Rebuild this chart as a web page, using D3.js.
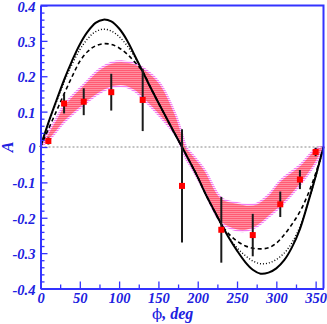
<!DOCTYPE html>
<html>
<head>
<meta charset="utf-8">
<script src="https://cdn.jsdelivr.net/npm/d3@7"></script>
<style>
body { margin: 0; background: #fff; }
svg { display: block; }
.tick text { font-family: "Liberation Serif", serif; font-weight: bold; font-style: italic; font-size: 14.5px; fill: #2020e0; }
</style>
</head>
<body>
<svg id="chart" width="327" height="324"></svg>
<script>
"use strict";

// measured points
var pointPhi = [10, 30, 55, 90, 130, 180, 230, 270, 305, 330, 350];
var pointA   = [0.017, 0.123, 0.128, 0.155, 0.133, -0.110, -0.234, -0.249, -0.162, -0.092, -0.014];
var pointErr = [0.010, 0.028, 0.038, 0.052, 0.088, 0.160, 0.093, 0.060, 0.036, 0.027, 0.012];

// model curves, read every 10 deg
var curvePhi = [0, 10, 20, 30, 40, 50, 60, 70, 80, 90, 100, 110, 120, 130, 140, 150, 160, 170, 180,
                190, 200, 210, 220, 230, 240, 250, 260, 270, 280, 290, 300, 310, 320, 330, 340, 350, 360];
var solidA  = [0, 0.068, 0.130, 0.190, 0.243, 0.290, 0.326, 0.351, 0.360, 0.355, 0.335, 0.302, 0.258, 0.213, 0.168, 0.125, 0.083, 0.041, 0,
               -0.042, -0.085, -0.133, -0.176, -0.218, -0.258, -0.293, -0.324, -0.347, -0.358, -0.355, -0.343, -0.320, -0.283, -0.232, -0.160, -0.083, 0];
var dottedA = [0, 0.066, 0.126, 0.183, 0.233, 0.275, 0.306, 0.326, 0.333, 0.328, 0.312, 0.287, 0.254, 0.213, 0.168, 0.125, 0.083, 0.041, 0,
               -0.042, -0.085, -0.133, -0.176, -0.218, -0.256, -0.285, -0.306, -0.322, -0.330, -0.328, -0.318, -0.300, -0.270, -0.225, -0.160, -0.085, 0];
var dashedA = [0, 0.050, 0.100, 0.150, 0.198, 0.242, 0.270, 0.286, 0.292, 0.290, 0.280, 0.263, 0.240, 0.213, 0.168, 0.125, 0.083, 0.041, 0,
               -0.042, -0.085, -0.133, -0.176, -0.218, -0.247, -0.266, -0.279, -0.286, -0.288, -0.285, -0.272, -0.248, -0.218, -0.183, -0.135, -0.075, 0];

// band
var bandPhi = [0, 10, 20, 30, 55, 75, 90, 105, 120, 131, 152, 173, 180, 186, 190, 209, 230, 250, 262, 275, 290, 305, 330, 351, 360];
var bandLo  = [0, 0.018, 0.043, 0.070, 0.119, 0.152, 0.168, 0.172, 0.158, 0.135, 0.086, 0.029, -0.007, -0.037, -0.051, -0.127, -0.215, -0.236, -0.237, -0.225, -0.198, -0.169, -0.108, -0.042, 0];
var bandHi  = [0, 0.042, 0.080, 0.119, 0.177, 0.220, 0.238, 0.242, 0.236, 0.223, 0.180, 0.086, 0.038, -0.003, -0.013, -0.065, -0.144, -0.158, -0.163, -0.160, -0.135, -0.095, -0.051, -0.003, 0];

// ticks
var xTickValues = [0, 50, 100, 150, 200, 250, 300, 350];
var xTickLabels = ['0', '50', '100', '150', '200', '250', '300', '350'];
var yTickValues = [-0.4, -0.3, -0.2, -0.1, 0, 0.1, 0.2, 0.3, 0.4];
var yTickLabels = ['-0.4', '-0.3', '-0.2', '-0.1', '0', '0.1', '0.2', '0.3', '0.4'];

var blue = '#3333ff';
var svg = d3.select('#chart');

var x = d3.scaleLinear().domain([0, 360]).range([40.5, 323.5]);
var y = d3.scaleLinear().domain([-0.4, 0.4]).range([288.5, 5.5]);

var defs = svg.append('defs');

var pink = defs.append('pattern').attr('id', 'pinkPat')
    .attr('patternUnits', 'userSpaceOnUse').attr('width', 4).attr('height', 2);
pink.append('rect').attr('width', 4).attr('height', 1).attr('fill', '#ff5a74');
pink.append('rect').attr('y', 1).attr('width', 4).attr('height', 1).attr('fill', '#ff8f9f');

var mag = defs.append('pattern').attr('id', 'magPat')
    .attr('patternUnits', 'userSpaceOnUse').attr('width', 4).attr('height', 2);
mag.append('rect').attr('width', 4).attr('height', 1).attr('fill', '#f27af2');
mag.append('rect').attr('y', 1).attr('width', 4).attr('height', 1).attr('fill', '#ffe4fb');

// band
var band = d3.area()
    .x(function(d) { return x(d.phi); })
    .y0(function(d) { return y(d.lo); })
    .y1(function(d) { return y(d.hi); })
    .curve(d3.curveCatmullRom.alpha(0.5));

var bandData = bandPhi.map(function(p, i) { return { phi: p, lo: bandLo[i], hi: bandHi[i] }; });

svg.append('path')
    .datum(bandData)
    .attr('d', band)
    .attr('fill', 'url(#pinkPat)')
    .attr('stroke', 'url(#magPat)')
    .attr('stroke-width', 2);

// zero line
svg.append('line')
    .attr('x1', x(0)).attr('x2', x(360))
    .attr('y1', y(0)).attr('y2', y(0))
    .attr('stroke', '#888')
    .attr('stroke-width', 1)
    .attr('stroke-dasharray', '2,2');

// curves
var line = d3.line()
    .x(function(d) { return x(d[0]); })
    .y(function(d) { return y(d[1]); })
    .curve(d3.curveCatmullRom.alpha(0.5));

function draw_curve( values, width, dash ) {
    svg.append('path')
        .datum(curvePhi.map(function(p, i) { return [p, values[i]]; }))
        .attr('d', line)
        .attr('fill', 'none')
        .attr('stroke', '#000')
        .attr('stroke-width', width)
        .attr('stroke-dasharray', dash);
}

draw_curve( dashedA, 1.6, '4,3' );
draw_curve( dottedA, 1.4, '1,2' );
draw_curve( solidA, 2, null );

// points
var pts = svg.append('g').selectAll('g')
    .data(pointPhi.map(function(p, i) { return { phi: p, a: pointA[i], e: pointErr[i] }; }))
    .enter().append('g');

pts.append('line')
    .attr('x1', function(d) { return x(d.phi); })
    .attr('x2', function(d) { return x(d.phi); })
    .attr('y1', function(d) { return y(d.a - d.e); })
    .attr('y2', function(d) { return y(d.a + d.e); })
    .attr('stroke', '#1a1a1a')
    .attr('stroke-width', 2);

pts.append('rect')
    .attr('x', function(d) { return x(d.phi) - 3; })
    .attr('y', function(d) { return y(d.a) - 3; })
    .attr('width', 6).attr('height', 6)
    .attr('fill', '#ff0000');

// axes
var xMinor = d3.range(25, 360, 50);
var yMinor = d3.range(-0.4, 0.4001, 0.02).filter(function(v) { return Math.abs(Math.round(v * 10) - v * 10) > 0.01; });

var gx = svg.append('g').attr('transform', 'translate(0,' + y(-0.4) + ')');
gx.call(d3.axisBottom(x).tickValues(xTickValues)
    .tickFormat(function(d, i) { return xTickLabels[i]; })
    .tickSize(-7).tickSizeOuter(0).tickPadding(4));
gx.append('g').call(d3.axisBottom(x).tickValues(xMinor).tickFormat('').tickSize(-4).tickSizeOuter(0));

var gy = svg.append('g').attr('transform', 'translate(' + x(0) + ',0)');
gy.call(d3.axisLeft(y).tickValues(yTickValues)
    .tickFormat(function(d, i) { return yTickLabels[i]; })
    .tickSize(-7).tickSizeOuter(0).tickPadding(5));
gy.append('g').call(d3.axisLeft(y).tickValues(yMinor).tickFormat('').tickSize(-4).tickSizeOuter(0));
gy.selectAll('.tick text').attr('dy', '0.38em');

svg.selectAll('.domain').attr('stroke', blue).attr('stroke-width', 2);
svg.selectAll('.tick line').attr('stroke', blue).attr('stroke-width', 1.3);

// frame top and right
svg.append('path')
    .attr('d', 'M' + x(0) + ',' + y(0.4) + 'H' + x(360) + 'V' + y(-0.4))
    .attr('fill', 'none')
    .attr('stroke', blue)
    .attr('stroke-width', 2);

// titles
svg.append('text')
    .attr('transform', 'translate(13,147) rotate(-90)')
    .attr('text-anchor', 'middle')
    .attr('font-family', '"Liberation Serif", serif')
    .attr('font-weight', 'bold')
    .attr('font-style', 'italic')
    .attr('font-size', 16)
    .attr('fill', '#2020e0')
    .text('A');

var xt = svg.append('text')
    .attr('x', 152).attr('y', 319)
    .attr('font-family', '"Liberation Serif", serif')
    .attr('font-size', 16)
    .attr('fill', '#2020e0');
xt.append('tspan').attr('font-family', '"DejaVu Serif", serif').attr('font-size', 15).text('\u03d5');
xt.append('tspan').attr('font-weight', 'bold').attr('font-style', 'italic').text(', deg');
</script>
</body>
</html>
